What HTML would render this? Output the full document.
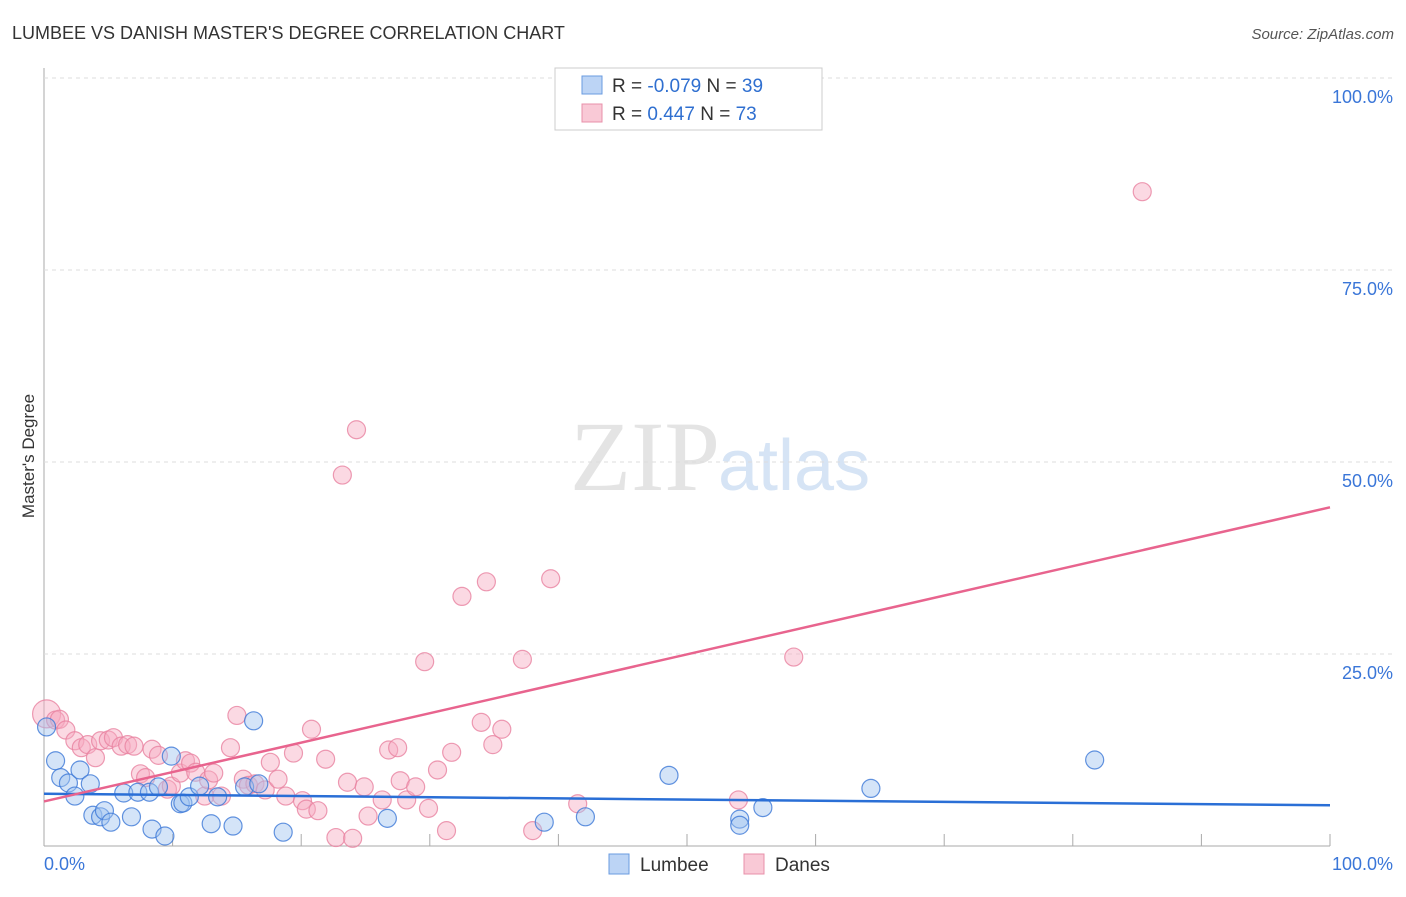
<!DOCTYPE html>
<html><head><meta charset="utf-8"><style>
body{margin:0;background:#fff;font-family:"Liberation Sans",sans-serif}
#wrap{position:relative;width:1406px;height:892px}
</style></head><body>
<div id="wrap">
<svg id="svg" width="1406" height="892" xmlns="http://www.w3.org/2000/svg">
<text x="12" y="39" font-size="18" fill="#333">LUMBEE VS DANISH MASTER'S DEGREE CORRELATION CHART</text>
<text x="1394" y="39" font-size="15" fill="#555" font-style="italic" text-anchor="end">Source: ZipAtlas.com</text>
<text x="34" y="456" font-size="17" fill="#333" text-anchor="middle" transform="rotate(-90 34 456)">Master's Degree</text>
<text x="720" y="490" font-size="100" fill="#e4e4e4" text-anchor="end" font-family="Liberation Serif,serif">ZIP</text>
<text x="718" y="490" font-size="72" fill="#d6e4f5">atlas</text>
<g id="grid"></g><g id="pts"></g><g id="lines"></g>
<g>
<rect x="555" y="68" width="267" height="62" fill="#fff" stroke="#ccc"/>
<rect x="582" y="76" width="20" height="18" fill="#bcd4f5" stroke="#6a9be0"/>
<rect x="582" y="104" width="20" height="18" fill="#f9c9d6" stroke="#e890aa"/>
<text x="612" y="92" font-size="19" fill="#333">R = <tspan fill="#2f6fd0">-0.079</tspan>   N = <tspan fill="#2f6fd0">39</tspan></text>
<text x="612" y="120" font-size="19" fill="#333">R =  <tspan fill="#2f6fd0"> 0.447</tspan>   N = <tspan fill="#2f6fd0">73</tspan></text>
</g>
<g>
<rect x="609" y="854" width="20" height="20" fill="#bcd4f5" stroke="#6a9be0"/>
<text x="640" y="871" font-size="19" fill="#333">Lumbee</text>
<rect x="744" y="854" width="20" height="20" fill="#f9c9d6" stroke="#e890aa"/>
<text x="775" y="871" font-size="19" fill="#333">Danes</text>
</g>
<text x="44" y="870" font-size="18" fill="#3a76d8">0.0%</text>
<text x="1393" y="870" font-size="18" fill="#3a76d8" text-anchor="end">100.0%</text>
</svg>
</div>
<script>
const yTicks=[25,50,75,100];
const blueX=[0.2,0.9,1.3,1.9,2.4,2.8,3.6,3.8,4.4,4.7,5.2,6.2,6.8,7.3,8.2,8.4,8.9,9.4,9.9,10.6,10.8,11.3,12.1,13.0,13.5,14.7,15.6,16.3,16.7,18.6,26.7,38.9,42.1,48.6,54.1,54.1,55.9,64.3,81.7];
const blueY=[15.5,11.1,8.9,8.2,6.5,9.9,8.1,4.0,3.8,4.6,3.1,6.9,3.8,7.0,7.0,2.2,7.7,1.3,11.7,5.5,5.6,6.4,7.8,2.9,6.4,2.6,7.7,16.3,8.1,1.8,3.6,3.1,3.8,9.2,3.5,2.7,5.0,7.5,11.2];
const pinkX=[0.2,0.9,1.2,1.7,2.4,2.9,3.4,4.0,4.4,5.0,5.4,6.0,6.5,7.0,7.5,7.9,8.4,8.9,9.6,9.9,10.6,11.0,11.4,11.8,12.5,12.8,13.2,13.8,14.5,15.0,15.5,15.9,16.4,17.2,17.6,18.2,18.8,19.4,20.1,20.4,20.8,21.3,21.9,22.7,23.6,24.0,24.3,23.2,24.9,25.2,26.3,26.8,27.5,27.7,28.2,28.9,29.6,29.9,30.6,31.3,31.7,32.5,34.0,34.4,34.9,35.6,37.2,38.0,39.4,41.5,54.0,58.3,85.4];
const pinkY=[17.2,16.4,16.5,15.1,13.7,12.8,13.2,11.5,13.7,13.8,14.1,13.0,13.2,13.0,9.4,8.9,12.6,11.8,7.4,7.8,9.5,11.1,10.8,9.6,6.5,8.6,9.5,6.5,12.8,17.0,8.7,7.9,8.1,7.3,10.9,8.7,6.5,12.1,5.9,4.8,15.2,4.6,11.3,1.1,8.3,1.0,54.2,48.3,7.7,3.9,6.0,12.5,12.8,8.5,6.0,7.7,24.0,4.9,9.9,2.0,12.2,32.5,16.1,34.4,13.2,15.2,24.3,2.0,34.8,5.5,6.0,24.6,85.2];
const trendBlue=[6.8,5.3];
const trendPink=[5.8,44.1];
const X0=44,X1=1330,Y0=846,Y1=78;
const sx=v=>X0+(X1-X0)*v/100, sy=v=>Y0-(Y0-Y1)*v/100;
const NS="http://www.w3.org/2000/svg";
function mk(tag,attrs,parent){const e=document.createElementNS(NS,tag);for(const k in attrs)e.setAttribute(k,attrs[k]);parent.appendChild(e);return e;}
const grid=document.getElementById('grid');
const ax=mk('line',{x1:X0,y1:68,x2:X0,y2:Y0,stroke:'#aaa'},grid);


const bx=mk('line',{x1:X0,y1:Y0,x2:X1,y2:Y0,stroke:'#aaa'},grid);


for(let k=1;k<=10;k++){const t=mk('line',{x1:sx(k*10),y1:Y0,x2:sx(k*10),y2:Y0-12,stroke:'#aaa'},grid);

}
yTicks.forEach(v=>{const g=mk('line',{x1:X0,y1:sy(v),x2:1394,y2:sy(v),stroke:'#ddd','stroke-dasharray':'4,4'},grid);


const t=mk('text',{x:1393,y:sy(v)+25,'font-size':18,fill:'#3a76d8','text-anchor':'end'},grid);t.textContent=v.toFixed(1)+'%';

});
const pts=document.getElementById('pts');
pinkX.forEach((x,i)=>{const c=mk('circle',{cx:sx(x),cy:sy(pinkY[i]),r:i==0?14:9,fill:'rgba(246,170,192,0.45)',stroke:'rgba(232,130,160,0.8)','stroke-width':1.2},pts);

});
blueX.forEach((x,i)=>{const c=mk('circle',{cx:sx(x),cy:sy(blueY[i]),r:9,fill:'rgba(160,195,240,0.45)',stroke:'rgba(60,120,215,0.8)','stroke-width':1.2},pts);

});
const ln=document.getElementById('lines');
const lb=mk('line',{x1:sx(0),y1:sy(trendBlue[0]),x2:sx(100),y2:sy(trendBlue[1]),stroke:'#2a6fd6','stroke-width':2.5},ln);


const lp=mk('line',{x1:sx(0),y1:sy(trendPink[0]),x2:sx(100),y2:sy(trendPink[1]),stroke:'#e8648e','stroke-width':2.5},ln);


</script>
</body></html>
